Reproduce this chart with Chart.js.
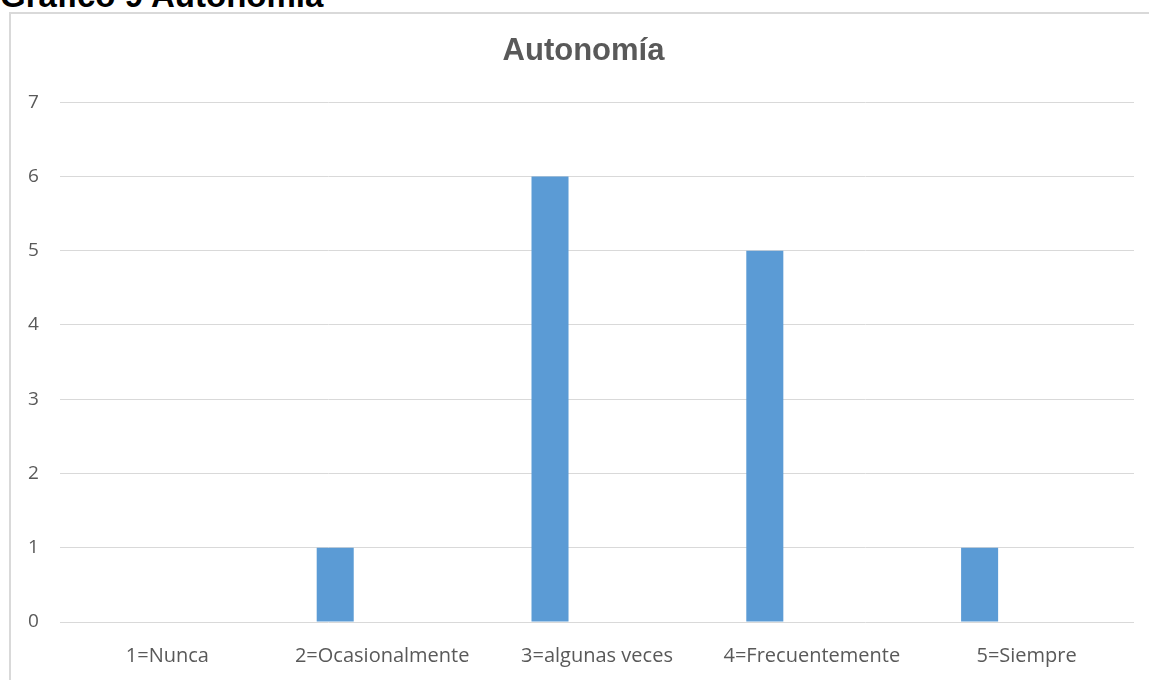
<!DOCTYPE html>
<html>
<head>
<meta charset="utf-8">
<script src="https://cdn.jsdelivr.net/npm/chart.js@4"></script>
<style>
    html, body { margin: 0; padding: 0; background: #ffffff; overflow: hidden; width: 1149px; height: 680px; }
    #caption { position: absolute; left: 0px; top: -21px; font: bold 33px "Liberation Sans", Arial, sans-serif; color: #000000; line-height: 33px; white-space: nowrap; }
    #frame { position: absolute; left: 9px; top: 12px; width: 1150px; height: 700px; border: 2px solid #d9d9d9; background: #ffffff; }
    #wrap { position: absolute; left: 0; top: 0; width: 1144px; height: 690px; }
</style>
</head>
<body>
<div id="caption">Gráfico 9 Autonomía</div>
<div id="frame">
    <div id="wrap"><canvas id="autonomiaChart"></canvas></div>
</div>
<script>
var categories = ["1=Nunca", "2=Ocasionalmente", "3=algunas veces", "4=Frecuentemente", "5=Siempre"];
var values = [0, 1, 6, 5, 1];
var emptySeries = [null, null, null, null, null];
var yTicks = [0, 1, 2, 3, 4, 5, 6, 7];

var chart = document.getElementById("autonomiaChart");

if (chart) {

    new Chart(chart, {

        type: "bar",

        data: {

            labels: categories,

            datasets: [{
                label: "Autonomía",
                data: values,
                backgroundColor: "#5b9bd5",
                barPercentage: 0.394,
                categoryPercentage: 0.875
            }, {
                label: "",
                data: emptySeries,
                backgroundColor: "#ed7d31",
                barPercentage: 0.394,
                categoryPercentage: 0.875
            }]

        },

        options: {

            responsive: true,
            maintainAspectRatio: false,
            animation: false,
            layout: {
                padding: { left: 22, right: 21, top: 0, bottom: 22 }
            },

            plugins: {
                legend: { display: false },
                tooltip: { enabled: false },
                title: {
                    display: true,
                    text: "Autonomía",
                    color: "#595959",
                    font: { family: "'Liberation Sans', Arial, sans-serif", size: 31, weight: "bold" },
                    padding: { top: 19, bottom: 32 }
                }
            },

            scales: {
                x: {
                    grid: { display: false },
                    border: { display: false },
                    ticks: {
                        color: "#595959",
                        font: { family: "'Open Sans', sans-serif", size: 20 },
                        padding: 14,
                        maxRotation: 0
                    }
                },
                y: {
                    min: 0,
                    max: 7,
                    afterFit: function (scale) { scale.width = 27; },
                    afterBuildTicks: function (scale) {
                        scale.ticks = yTicks.map(function (v) { return { value: v }; });
                    },
                    grid: { color: "#d9d9d9", lineWidth: 1, drawTicks: false },
                    border: { display: false },
                    ticks: {
                        color: "#595959",
                        font: { family: "'Open Sans', sans-serif", size: 19 },
                        mirror: true,
                        padding: -32
                    }
                }
            }

        }

    });

}
</script>
</body>
</html>
